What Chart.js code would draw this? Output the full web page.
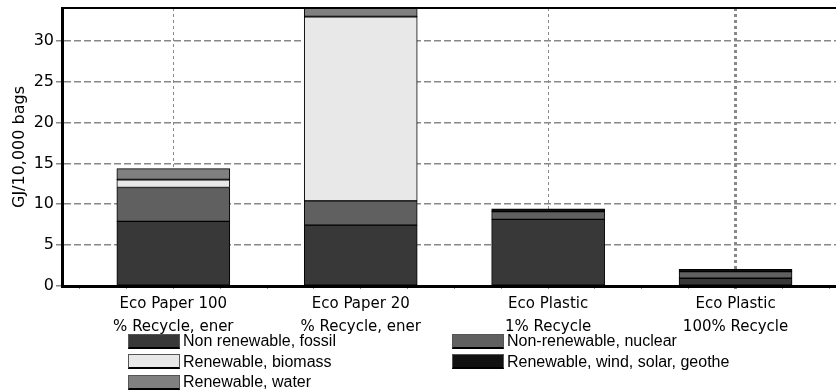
<!DOCTYPE html>
<html>
<head>
<meta charset="utf-8">
<script src="https://cdn.jsdelivr.net/npm/chart.js@4"></script>
<style>
  body { margin: 0; background: #fff; }
  #wrap { position: relative; width: 836px; height: 392px; }
  #legend { position: absolute; left: 0; top: 0; width: 836px; height: 392px; pointer-events: none;
            font-family: "Liberation Sans", Arial, sans-serif; font-size: 16px; color: #000; }
  .item { position: absolute; display: flex; align-items: center; }
  .box { width: 52px; height: 15px; border: 1px solid #555; border-bottom: 2px solid #000; box-sizing: border-box; margin-right: 3px; }
</style>
</head>
<body>
<div id="wrap">
  <canvas id="chart"></canvas>
  <div id="legend"></div>
</div>
<script>
// Chart data
const categories = [
    ['Eco Paper 100', '% Recycle, ener'],
    ['Eco Paper 20', '% Recycle, ener'],
    ['Eco Plastic', '1% Recycle'],
    ['Eco Plastic', '100% Recycle']
];
const seriesNames = [
    'Non renewable, fossil',
    'Non-renewable, nuclear',
    'Renewable, biomass',
    'Renewable, wind, solar, geothe',
    'Renewable, water'
];
const fossil = [7.9, 7.45, 8.15, 0.95];
const nuclear = [4.15, 2.97, 0.95, 0.8];
const biomass = [0.95, 22.5, 0, 0];
const windSolar = [0.05, 0.05, 0.35, 0.3];
const water = [1.3, 1.0, 0, 0];
const yTickValues = [0, 5, 10, 15, 20, 25, 30];
const yTitle = 'GJ/10,000 bags';

const seriesValues = [fossil, nuclear, biomass, windSolar, water];
const seriesColors = ['#383838', '#606060', '#e8e8e8', '#111111', '#808080'];

document.addEventListener('DOMContentLoaded', function() {
    drawChart();
    buildLegend();
});

function tickVal(c) {
    return c && c.tick ? c.tick.value : null;
}

function drawChart() {
    const ctx = document.getElementById('chart').getContext('2d');
    const datasets = seriesNames.map((name, s) => ({
        label: name,
        data: seriesValues[s].map((v, i) => ({ x: i, y: v })),
        backgroundColor: seriesColors[s],
        borderColor: '#000',
        borderWidth: 1,
        borderSkipped: false,
        barThickness: 113
    }));

    // minor tick positions on the x axis (quarter categories)
    const xTicks = [];
    for (let q = -2; q <= 14; q++) xTicks.push(q / 4);

    new Chart(ctx, {
        type: 'bar',
        data: { datasets: datasets },
        options: {
            responsive: true,
            maintainAspectRatio: false,
            animation: false,
            layout: { padding: { top: 8, left: 0, right: 0, bottom: 0 } },
            plugins: { legend: { display: false }, tooltip: { enabled: false } },
            scales: {
                x: {
                    type: 'linear',
                    stacked: true,
                    offset: false,
                    min: -0.594,
                    max: 3.536,
                    afterBuildTicks: s => { s.ticks = xTicks.map(v => ({ value: v })); },
                    afterFit: s => { s.height = 106; s.paddingLeft = 0; s.paddingRight = 0; },
                    grid: {
                        offset: false,
                        color: c => Number.isInteger(tickVal(c)) ? '#888' : 'rgba(0,0,0,0)',
                        lineWidth: c => tickVal(c) === 3 ? 3 : 1,
                        tickColor: '#888',
                        tickLength: 3,
                        tickBorderDash: []
                    },
                    border: { color: '#000', width: 3, dash: [3, 3] },
                    ticks: {
                        autoSkip: false,
                        maxRotation: 0,
                        padding: 4,
                        color: '#000',
                        font: { family: 'DejaVu Sans', size: 15, lineHeight: 1.5 },
                        callback: v => Number.isInteger(v) && categories[v] ? categories[v] : ''
                    }
                },
                x2: {
                    type: 'linear',
                    position: 'top',
                    offset: false,
                    min: 0, max: 1,
                    grid: { display: false, drawTicks: false },
                    ticks: { display: false },
                    border: { color: '#000', width: 2 },
                    afterFit: s => { s.height = 0; s.paddingLeft = 0; s.paddingRight = 0; }
                },
                y: {
                    stacked: true,
                    min: 0,
                    max: 34,
                    afterBuildTicks: s => { s.ticks = yTickValues.map(v => ({ value: v })); },
                    afterFit: s => { s.width = 62; s.paddingTop = 0; s.paddingBottom = 0; },
                    grid: {
                        color: c => tickVal(c) === 0 ? 'rgba(0,0,0,0)' : '#888',
                        lineWidth: 1.5,
                        tickColor: '#888',
                        tickLength: 6,
                        tickBorderDash: [7, 3]
                    },
                    border: { color: '#000', width: 3, dash: [7, 3] },
                    ticks: {
                        padding: 2,
                        color: '#000',
                        font: { family: 'DejaVu Sans', size: 16 }
                    },
                    title: {
                        display: true,
                        text: yTitle,
                        color: '#000',
                        padding: { top: 10, bottom: 0 },
                        font: { family: 'DejaVu Sans', size: 16 }
                    }
                }
            }
        }
    });
}

// Legend in two columns below the axis
function buildLegend() {
    const legend = document.getElementById('legend');
    seriesNames.forEach((name, i) => {
        const item = document.createElement('div');
        item.className = 'item';
        item.style.left = (i % 2 === 0 ? 128 : 452) + 'px';
        item.style.top = (332 + Math.floor(i / 2) * 20.5) + 'px';
        item.innerHTML = `<div class="box" style="background:${seriesColors[i]}"></div><span>${name}</span>`;
        legend.appendChild(item);
    });
}
</script>
</body>
</html>
